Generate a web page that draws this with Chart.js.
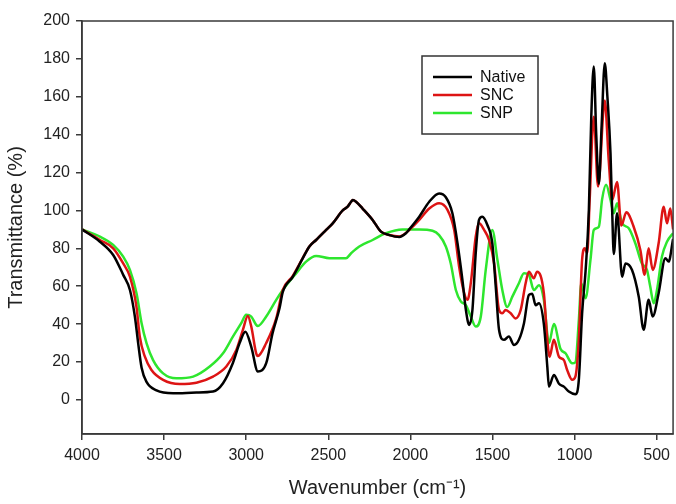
<!DOCTYPE html>
<html>
<head>
<meta charset="utf-8">
<script src="https://cdn.jsdelivr.net/npm/chart.js@4/dist/chart.umd.min.js"></script>
<style>
  html, body { margin: 0; padding: 0; background: #fff; }
  #wrap { width: 676px; height: 504px; }
</style>
</head>
<body>
<div id="wrap"><canvas id="ftir"></canvas></div>
<script>
/* FTIR spectra: Native / SNC / SNP */

const X_TICKS = [4000, 3500, 3000, 2500, 2000, 1500, 1000, 500];
const Y_TICKS = [0, 20, 40, 60, 80, 100, 120, 140, 160, 180, 200];

const NATIVE_WN = [4000, 3891, 3810, 3749, 3708, 3678, 3658, 3637, 3607, 3546, 3445, 3303, 3202, 3141, 3081, 3040, 3005, 2969, 2929, 2878, 2840, 2797, 2777, 2716, 2655, 2615, 2574, 2513, 2473, 2412, 2382, 2361, 2351, 2331, 2291, 2230, 2179, 2128, 2068, 2027, 2007, 1946, 1885, 1825, 1784, 1744, 1713, 1683, 1662, 1642, 1622, 1602, 1582, 1562, 1531, 1501, 1480, 1460, 1430, 1400, 1369, 1339, 1308, 1278, 1258, 1237, 1217, 1187, 1166, 1156, 1126, 1095, 1065, 1035, 995, 974, 954, 933, 913, 898, 883, 868, 852, 835, 816, 800, 781, 771, 761, 741, 710, 690, 650, 609, 579, 549, 524, 488, 447, 427, 400];
const NATIVE_T  = [90, 83.5, 76.5, 66, 58, 44, 30, 17, 9.5, 5, 3.5, 3.9, 4.4, 8.8, 19.5, 30, 36, 28, 15, 19.4, 35, 48.4, 57, 65, 74.8, 81, 84.4, 89.7, 93.2, 100, 102, 104.6, 105.5, 104.6, 101, 95, 88.8, 87, 86, 88, 90, 96.7, 104.6, 109, 107, 98.5, 82.7, 63.3, 47.5, 39.6, 47.5, 77.4, 95, 96.7, 92.3, 82.7, 59.8, 37, 31.7, 33.4, 29, 31.7, 40.5, 55.4, 56, 50, 51, 40, 17.6, 7, 13.2, 8.5, 7, 4.4, 3, 10.6, 45.7, 68, 100, 150, 176, 140, 114, 145, 177.7, 160, 130, 100, 77, 98.5, 65, 72, 68.6, 54.5, 37, 52.8, 44, 56.3, 74.8, 73, 85];

const SNC_WN = [4000, 3891, 3810, 3749, 3708, 3668, 3648, 3617, 3577, 3506, 3405, 3303, 3202, 3121, 3060, 3020, 2990, 2969, 2939, 2929, 2878, 2817, 2777, 2716, 2655, 2615, 2574, 2513, 2473, 2412, 2382, 2361, 2351, 2331, 2291, 2230, 2179, 2128, 2068, 2007, 1946, 1885, 1825, 1774, 1733, 1703, 1672, 1652, 1632, 1602, 1582, 1551, 1521, 1490, 1460, 1440, 1420, 1389, 1359, 1328, 1298, 1278, 1248, 1228, 1187, 1166, 1152, 1126, 1095, 1065, 1045, 1014, 995, 974, 954, 937, 923, 908, 883, 857, 816, 792, 771, 741, 715, 685, 640, 599, 573, 549, 524, 488, 457, 437, 417, 400];
const SNC_T  = [90, 84.4, 80, 72, 65, 49, 33.4, 22.8, 15.8, 10.6, 8.4, 9.1, 12.3, 17.6, 26.4, 37, 44.3, 38.7, 24.6, 23.2, 30, 43, 58, 65.5, 75, 81, 84.4, 89.7, 93.2, 100, 102, 104.6, 105.5, 104.6, 101, 95, 88.8, 87, 86.2, 89.7, 95, 101, 103.8, 100.3, 89.7, 70.3, 56.3, 52.8, 61.6, 86.2, 93.2, 89.7, 84.4, 72, 47.5, 45.7, 47.5, 45.7, 43, 47.5, 61.6, 67.7, 64.2, 67.7, 56.3, 31.7, 22.8, 31.7, 22.8, 21, 15.8, 10.6, 12.3, 31.7, 74, 80, 77.4, 105.5, 149.5, 112.6, 158, 126.6, 105.5, 115, 92, 99, 91.4, 79, 66, 80, 68.6, 82.7, 102, 93.2, 101, 90];

const SNP_WN = [4000, 3891, 3810, 3749, 3708, 3668, 3637, 3607, 3567, 3506, 3425, 3323, 3222, 3141, 3081, 3030, 3000, 2969, 2939, 2929, 2878, 2817, 2777, 2695, 2635, 2574, 2493, 2392, 2361, 2311, 2230, 2149, 2048, 1946, 1865, 1825, 1784, 1754, 1723, 1693, 1662, 1632, 1602, 1571, 1541, 1501, 1470, 1440, 1410, 1379, 1339, 1308, 1278, 1248, 1217, 1187, 1156, 1126, 1086, 1055, 1014, 995, 974, 959, 933, 903, 883, 852, 832, 808, 781, 761, 741, 721, 710, 670, 630, 590, 559, 539, 518, 498, 468, 437, 400];
const SNP_T  = [90, 86.2, 81.8, 75.6, 68.6, 56.3, 40.5, 30, 21, 14, 11.4, 12.3, 17.6, 24.6, 33.4, 40.5, 44.9, 44, 39.6, 39, 44, 52.8, 58, 66.9, 73, 76, 74.8, 74.8, 77.4, 81, 84.4, 88, 90, 90, 89.3, 87, 81, 72, 58, 52, 50, 44, 38.7, 44, 68.6, 89.7, 74, 58, 49, 54.5, 61.6, 66.9, 66, 58, 60.5, 52.8, 30, 40, 27, 24.6, 19.3, 19.8, 42, 61.6, 53.7, 74, 89.7, 91.4, 106, 113.5, 105.5, 98.5, 103.8, 96.7, 93.2, 90.6, 82.7, 72, 68.6, 59.8, 51, 58, 75.6, 83.5, 88];

const pts = (xs, ys) => xs.map((x, i) => ({ x: x, y: ys[i] }));

const AXIS_COLOR = '#3a3a3a';
const FONT = 'Arial, "Liberation Sans", sans-serif';

function line(label, xs, ys, color) {
  return {
    label: label,
    data: pts(xs, ys),
    borderColor: color,
    backgroundColor: color,
    borderWidth: 2.5,
    pointRadius: 0,
    cubicInterpolationMode: 'monotone',
    fill: false
  };
}

/* frame round the plot + boxed legend in the upper middle */
const framePlugin = {
  id: 'frame',
  afterDatasetsDraw(chart) {
    const { ctx, chartArea: a } = chart;
    ctx.save();
    ctx.strokeStyle = AXIS_COLOR;
    ctx.lineWidth = 1.5;
    ctx.strokeRect(a.left, a.top, a.right - a.left, a.bottom - a.top);

    const bx = 422, by = 56, bw = 116, bh = 78;
    ctx.fillStyle = '#fff';
    ctx.fillRect(bx, by, bw, bh);
    ctx.strokeStyle = '#333';
    ctx.lineWidth = 1.5;
    ctx.strokeRect(bx, by, bw, bh);
    ctx.font = '16px ' + FONT;
    ctx.textBaseline = 'middle';
    chart.data.datasets.forEach((ds, i) => {
      const y = by + 21 + i * 18;
      ctx.strokeStyle = ds.borderColor;
      ctx.lineWidth = 2.5;
      ctx.beginPath();
      ctx.moveTo(bx + 11, y);
      ctx.lineTo(bx + 50, y);
      ctx.stroke();
      ctx.fillStyle = '#111';
      ctx.fillText(ds.label, bx + 58, y + 1);
    });
    ctx.restore();
  }
};

new Chart(document.getElementById('ftir'), {
  type: 'line',
  data: {
    datasets: [
      line('Native', NATIVE_WN, NATIVE_T, '#000000'),
      line('SNC', SNC_WN, SNC_T, '#dd1414'),
      line('SNP', SNP_WN, SNP_T, '#2ee62e')
    ]
  },
  options: {
    responsive: true,
    maintainAspectRatio: false,
    animation: false,
    layout: { padding: { top: 21, right: 0, left: 0, bottom: 0 } },
    plugins: { legend: { display: false }, tooltip: { enabled: false } },
    scales: {
      x: {
        type: 'linear',
        reverse: true,
        min: 400, max: 4000,
        afterBuildTicks: s => { s.ticks = X_TICKS.map(v => ({ value: v })); },
        afterFit: s => { s.height = 70; },
        grid: { display: true, drawOnChartArea: false, drawTicks: true, tickLength: 6, color: AXIS_COLOR, lineWidth: 1.5 },
        border: { display: true, color: AXIS_COLOR, width: 1.5 },
        ticks: { color: '#222', padding: 6, maxRotation: 0, callback: v => String(v), font: { family: FONT, size: 16 } },
        title: { display: true, text: 'Wavenumber (cm⁻¹)', color: '#222', padding: { top: 10 }, font: { family: FONT, size: 20 } }
      },
      y: {
        min: -18, max: 200,
        afterBuildTicks: s => { s.ticks = Y_TICKS.map(v => ({ value: v })); },
        afterFit: s => { s.width = 82; },
        grid: { display: true, drawOnChartArea: false, drawTicks: true, tickLength: 6, color: AXIS_COLOR, lineWidth: 1.5 },
        border: { display: true, color: AXIS_COLOR, width: 1.5 },
        ticks: { color: '#222', padding: 6, callback: v => String(v), font: { family: FONT, size: 16 } },
        title: { display: true, text: 'Transmittance (%)', color: '#222', padding: { bottom: 6 }, font: { family: FONT, size: 20 } }
      }
    }
  },
  plugins: [framePlugin]
});
</script>
</body>
</html>
